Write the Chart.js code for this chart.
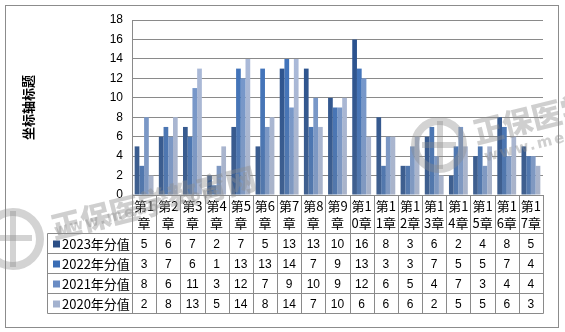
<!DOCTYPE html>
<html>
<head>
<meta charset="utf-8">
<script src="https://cdn.jsdelivr.net/npm/chart.js@4.4.1/dist/chart.umd.min.js"></script>
<style>
  html, body { margin: 0; padding: 0; background: #fff; }
  #wrap { position: relative; width: 565px; height: 332px; overflow: hidden; }
  #frame { position: absolute; left: 5px; top: 5px; width: 552px; height: 321px; border: 1px solid #8c8c8c; }
  canvas { position: absolute; left: 0; top: 0; }
  .wm { position: absolute; color: rgba(140,140,140,0.42); font-family: "Noto Sans CJK SC"; font-weight: 900;
        transform-origin: left top; white-space: nowrap; pointer-events: none; }
  .wm-url { font-family: "DejaVu Sans"; font-weight: bold; letter-spacing: 2px; }
  .logo { position: absolute; border-radius: 50%; border: 8px solid rgba(140,140,140,0.38); pointer-events: none; }
  .logo::before { content: ""; position: absolute; left: 44%; top: -10%; width: 6px; height: 120%; background: rgba(140,140,140,0.38); }
  .logo::after { content: ""; position: absolute; left: 8%; top: 42%; width: 84%; height: 6px; background: rgba(140,140,140,0.38); }
</style>
</head>
<body>
<div id="wrap">
  <div id="frame"></div>
  <canvas id="chart" width="565" height="332"></canvas>
  <!-- site watermarks -->
  <div class="logo" style="left:-18px;top:208px;width:46px;height:46px;"></div>
  <div class="wm" style="left:46px;top:205px;font-size:30px;transform:rotate(-14deg);">正保医学教育网</div>
  <div class="wm wm-url" style="left:52px;top:222px;font-size:15px;transform:rotate(-14deg);">www.med66.com</div>
  <div class="logo" style="left:411px;top:117px;width:40px;height:40px;"></div>
  <div class="wm" style="left:468px;top:110px;font-size:30px;transform:rotate(-14deg);">正保医学教育网</div>
  <div class="wm wm-url" style="left:482px;top:148px;font-size:15px;transform:rotate(-14deg);">www.med66.com</div>
</div>
<script>
const categories = ['第1章', '第2章', '第3章', '第4章', '第5章', '第6章', '第7章', '第8章', '第9章',
  '第10章', '第11章', '第12章', '第13章', '第14章', '第15章', '第16章', '第17章'];
const seriesNames = ['2023年分值', '2022年分值', '2021年分值', '2020年分值'];
const scores2023 = [5, 6, 7, 2, 7, 5, 13, 13, 10, 16, 8, 3, 6, 2, 4, 8, 5];
const scores2022 = [3, 7, 6, 1, 13, 13, 14, 7, 9, 13, 3, 3, 7, 5, 5, 7, 4];
const scores2021 = [8, 6, 11, 3, 12, 7, 9, 10, 9, 12, 6, 5, 4, 7, 3, 4, 4];
const scores2020 = [2, 8, 13, 5, 14, 8, 14, 7, 10, 6, 6, 6, 2, 5, 5, 6, 3];
const yTicks = [0, 2, 4, 6, 8, 10, 12, 14, 16, 18];

const seriesData = [scores2023, scores2022, scores2021, scores2020];
const topColors = ['#27508f', '#3b72c0', '#7096d0', '#aabbdd'];
const baseColors = ['#40608f', '#5478ab', '#8199c0', '#a9b3c9'];
const keyColors = ['#2b4f87', '#3a6db5', '#6a8cc4', '#a3b2cf'];

const FONT = '"Liberation Sans", "Noto Sans CJK SC", sans-serif';
const GRID = '#8a8a8a';

function barFill(i) {
  return (c) => {
    const area = c.chart.chartArea;
    if (!area) return topColors[i];
    const g = c.chart.ctx.createLinearGradient(0, area.top, 0, area.bottom);
    g.addColorStop(0, topColors[i]);
    g.addColorStop(1, baseColors[i]);
    return g;
  };
}

// data table under the plot + rotated axis title
const dataTable = {
  id: 'dataTable',
  afterDraw(chart) {
    const { ctx, chartArea } = chart;
    const x = chart.scales.x;
    const n = categories.length;
    const step = (chartArea.right - chartArea.left) / n;
    const top = Math.round(chartArea.bottom) + 0.5;
    const headH = 38, rowH = 20;
    const rowsTop = top + headH;
    const bottom = rowsTop + rowH * seriesData.length;
    const legendLeft = 47.5;
    const right = Math.round(chartArea.right) + 0.5;

    ctx.save();
    ctx.strokeStyle = GRID;
    ctx.lineWidth = 1;
    ctx.beginPath();
    for (let i = 0; i <= n; i++) {
      const xx = Math.round(chartArea.left + step * i) + 0.5;
      ctx.moveTo(xx, top);
      ctx.lineTo(xx, bottom);
    }
    ctx.moveTo(legendLeft, rowsTop);
    ctx.lineTo(legendLeft, bottom);
    for (let r = 0; r <= seriesData.length; r++) {
      const yy = rowsTop + rowH * r;
      ctx.moveTo(legendLeft, yy);
      ctx.lineTo(right, yy);
    }
    ctx.stroke();

    ctx.fillStyle = '#000';
    ctx.textAlign = 'center';
    ctx.textBaseline = 'middle';
    ctx.font = '13px "Noto Sans CJK SC", sans-serif';
    categories.forEach((name, i) => {
      const cx = x.getPixelForValue(i);
      ctx.fillText(name.slice(0, 2), cx, top + 11);
      ctx.fillText(name.slice(2), cx, top + 28);
    });

    ctx.font = '12px ' + FONT;
    seriesData.forEach((vals, r) => {
      const cy = rowsTop + rowH * r + rowH / 2 + 1;
      vals.forEach((v, i) => ctx.fillText(String(v), x.getPixelForValue(i), cy));
    });

    ctx.textAlign = 'left';
    ctx.font = '13px "Noto Sans CJK SC", sans-serif';
    seriesNames.forEach((name, r) => {
      const cy = rowsTop + rowH * r + rowH / 2;
      ctx.fillStyle = keyColors[r];
      ctx.fillRect(53, cy - 3, 7, 7);
      ctx.fillStyle = '#000';
      ctx.fillText(name, 62, cy + 1);
    });

    ctx.translate(28, (chartArea.top + chartArea.bottom) / 2);
    ctx.rotate(-Math.PI / 2);
    ctx.textAlign = 'center';
    ctx.font = 'bold 13px "Noto Sans CJK SC", sans-serif';
    ctx.fillText('坐标轴标题', 0, 0);
    ctx.restore();
  }
};

new Chart(document.getElementById('chart'), {
  type: 'bar',
  data: {
    labels: categories,
    datasets: seriesNames.map((name, i) => ({
      label: name,
      data: seriesData[i],
      backgroundColor: barFill(i),
      borderWidth: 0,
      categoryPercentage: 0.78,
      barPercentage: 1,
    })),
  },
  options: {
    responsive: false,
    animation: false,
    layout: { padding: { top: 20, right: 22, bottom: 137, left: 0 } },
    plugins: { legend: { display: false }, tooltip: { enabled: false } },
    scales: {
      x: {
        ticks: { display: false },
        grid: { display: false },
        border: { display: true, color: GRID },
        afterFit: (s) => { s.height = 0; },
      },
      y: {
        min: 0,
        max: 18,
        afterBuildTicks: (s) => { s.ticks = yTicks.map(v => ({ value: v })); },
        ticks: { color: '#000', padding: 9, font: { size: 12, family: FONT } },
        grid: { color: GRID, drawTicks: false },
        border: { display: true, color: GRID },
        afterFit: (s) => { s.width = 132; },
      },
    },
  },
  plugins: [dataTable],
});
</script>
</body>
</html>
